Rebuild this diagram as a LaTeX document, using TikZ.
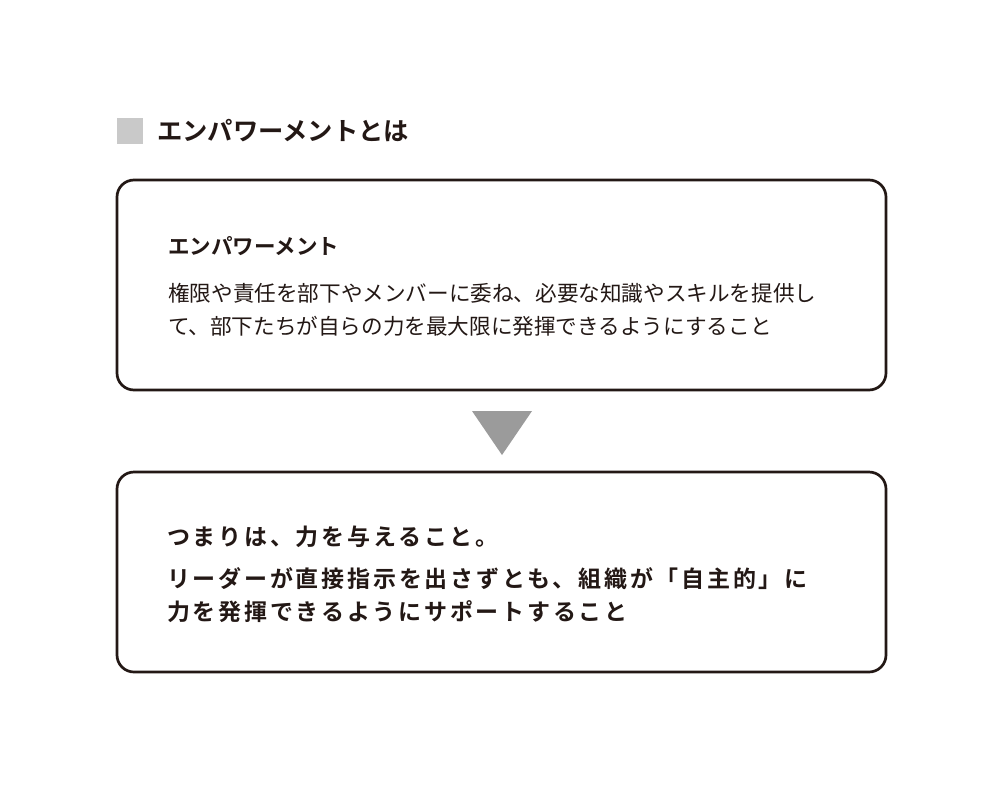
\documentclass[tikz,border=0pt]{standalone}
\usepackage{fontspec}
\newfontfamily\jp{Noto Sans CJK JP}
\newfontfamily\jpb{Noto Sans CJK JP Bold}
\newfontfamily\jpm[LetterSpace=12]{Noto Sans CJK JP Bold}
\definecolor{ink}{HTML}{231815}
\definecolor{boxgray}{HTML}{C9C9C9}
\definecolor{arrowgray}{HTML}{9B9B9B}
\begin{document}
\begin{tikzpicture}[x=1pt,y=-1pt,
  panel/.style={draw=ink,line width=2.7pt,rounded corners=17pt},
  txt/.style={anchor=west,inner sep=0pt,text=ink}]
\useasboundingbox (0,0) rectangle (1006,790);
\fill[white] (0,0) rectangle (1006,790);
% heading
\fill[boxgray] (117,118) rectangle (143,144);
\node[txt] (head) at (157,131) {\jpb\fontsize{25.3}{28}\selectfont エンパワーメントとは};
% box 1
\draw[panel] (117,180) rectangle (886,390);
\node[txt] (t1) at (168,246) {\jpb\fontsize{21.5}{24}\selectfont エンパワーメント};
\node[txt] (l1) at (168,293) {\jp\fontsize{21.6}{24}\selectfont 権限や責任を部下やメンバーに委ね、必要な知識やスキルを提供し};
\node[txt] (l2) at (168,326) {\jp\fontsize{21.6}{24}\selectfont て、部下たちが自らの力を最大限に発揮できるようにすること};
% arrow
\fill[arrowgray] (472,411) -- (532,411) -- (502,455) -- cycle;
% box 2
\draw[panel] (117,472) rectangle (886,672);
\node[txt] (m1) at (167,537) {\jpm\fontsize{23}{26}\selectfont つまりは、力を与えること。};
\node[txt] (m2) at (167,579) {\jpm\fontsize{23}{26}\selectfont リーダーが直接指示を出さずとも、組織が「自主的」に};
\node[txt] (m3) at (167,612) {\jpm\fontsize{23}{26}\selectfont 力を発揮できるようにサポートすること};
\end{tikzpicture}
\end{document}
